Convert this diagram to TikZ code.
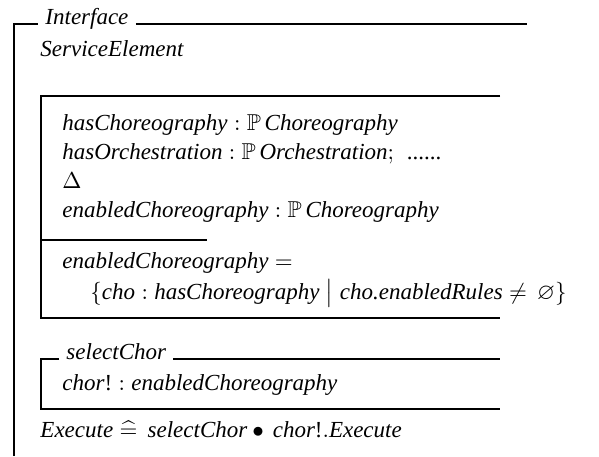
\documentclass[tikz,border=0pt]{standalone}
\usepackage{amssymb}
\usepackage{fontspec}
\setmainfont{Liberation Serif}

\tikzstyle{zline}=[
    line width=0.55pt,
  ]
\tikzstyle{zrow}=[
    anchor=base west,
    inner sep=0pt,
  ]
\newcommand{\zn}[1]{\textit{#1}}

\begin{document}
\begin{tikzpicture}[x=0.435pt,y=-0.435pt]
      \useasboundingbox (0,0) rectangle (599,456);
      % outer schema
      \coordinate (otl) at (14,24);
      \coordinate (otr) at (527,24);
      \coordinate (obl) at (14,456);
      \node[zrow] (iface) at (45,24) {\zn{Interface}};
      \node[zrow] (svc) at (40,56) {\zn{ServiceElement}};
      \draw[zline] (obl) -- (otl) -- ([xshift=-3pt]iface.base west);
      \draw[zline] ([xshift=3pt]iface.base east) -- (otr);
      % state box
      \coordinate (stl) at (41,96);
      \coordinate (str) at (500,96);
      \coordinate (sdl) at (41,240);
      \coordinate (sdr) at (207,240);
      \coordinate (sbl) at (41,318);
      \coordinate (sbr) at (500,318);
      \draw[zline] (str) -- (stl) -- (sbl) -- (sbr);
      \draw[zline] (sdl) -- (sdr);
      \node[zrow] (hasc) at (62,130) {$\zn{hasChoreography} : \mathbb{P}\,\zn{Choreography}$};
      \node[zrow] (haso) at (62,159) {$\zn{hasOrchestration} : \mathbb{P}\,\zn{Orchestration};$\;\;......};
      \node[zrow] (delta) at (62,188) {$\Delta$};
      \node[zrow] (enc) at (62,217) {$\zn{enabledChoreography} : \mathbb{P}\,\zn{Choreography}$};
      \node[zrow] (eneq) at (62,268) {$\zn{enabledChoreography} =$};
      \node[zrow] (enset) at (90,299) {$\{\zn{cho} \mathrel{:} \zn{hasChoreography}\mathrel{\big|}\zn{cho.enabledRules} \mathrel{\neq}\, \varnothing\}$};
      % operation box
      \coordinate (ktl) at (41,359);
      \coordinate (ktr) at (500,359);
      \coordinate (kbl) at (41,409);
      \coordinate (kbr) at (500,409);
      \node[zrow] (sel) at (66,359) {\zn{selectChor}};
      \draw[zline] ([xshift=-3pt]sel.base west) -- (ktl) -- (kbl) -- (kbr);
      \draw[zline] ([xshift=3pt]sel.base east) -- (ktr);
      \node[zrow] (chor) at (62,390) {$\zn{chor}\textup{!} : \zn{enabledChoreography}$};
      \node[zrow] (exec) at (40,437) {$\zn{Execute} \mathrel{\widehat{=}}\, \zn{selectChor} \mathbin{\bullet}\, \zn{chor}\textup{!}.\zn{Execute}$};
    \end{tikzpicture}
\end{document}
